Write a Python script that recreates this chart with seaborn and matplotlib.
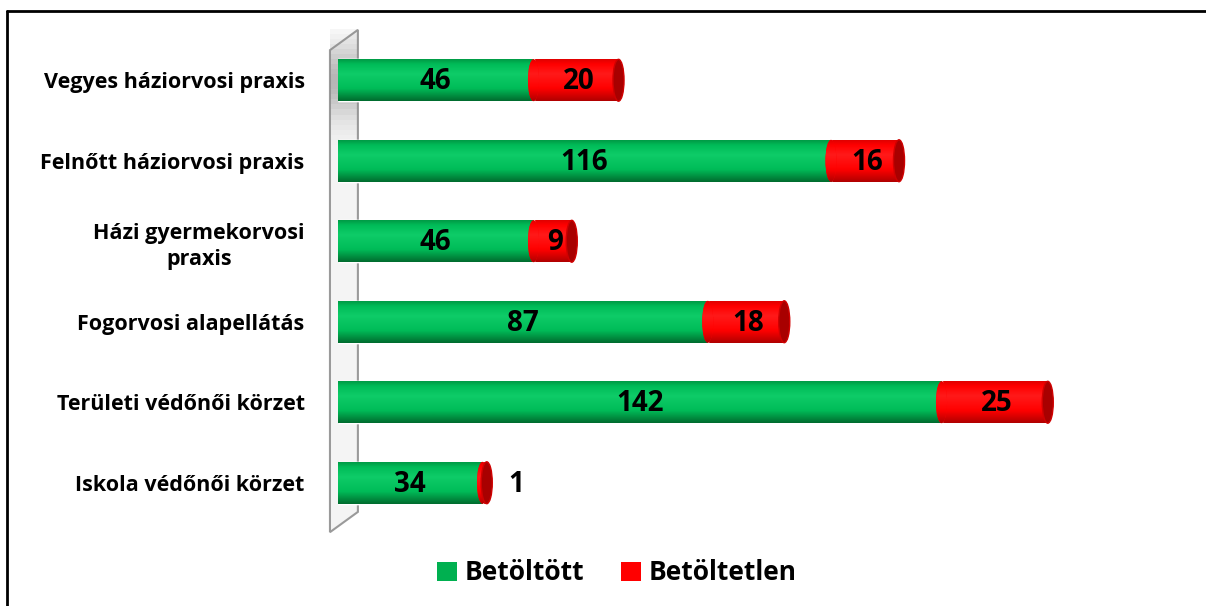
import numpy as np
import matplotlib
matplotlib.use("Agg")
import matplotlib.pyplot as plt
from matplotlib.patches import Ellipse, Polygon
from matplotlib.lines import Line2D
import matplotlib.colors as mcolors
import seaborn as sns

# Data
categories = [
    "Vegyes háziorvosi praxis",
    "Felnőtt háziorvosi praxis",
    "Házi gyermekorvosi\npraxis",
    "Fogorvosi alapellátás",
    "Területi védőnői körzet",
    "Iskola védőnői körzet",
]
filled = [46, 116, 46, 87, 142, 34]      # Betöltött
vacant = [20, 16, 9, 18, 25, 1]          # Betöltetlen
series_names = ["Betöltött", "Betöltetlen"]

totals = [f + v for f, v in zip(filled, vacant)]

sns.set_theme(style="white")
plt.rcParams["font.family"] = ["Open Sans", "DejaVu Sans"]
plt.rcParams["font.weight"] = "bold"
plt.rcParams["text.color"] = "black"

GREEN = "#00b050"
RED = "#ff0000"

fig = plt.figure(figsize=(12.06, 6.06), dpi=100)
W, H = 1206, 606
ax = fig.add_axes([338 / W, 1 - 523 / H, 765 / W, 483 / H])

bar_h = 0.52
sns.barplot(x=totals, y=categories, color=RED, orient="h", width=bar_h,
            saturation=1, ax=ax, zorder=3)
sns.barplot(x=filled, y=categories, color=GREEN, orient="h", width=bar_h,
            saturation=1, ax=ax, zorder=4)

ax.set_xlim(0, 180)
ax.set_ylim(len(categories) - 0.5, -0.5)
ax.set_xlabel("")
ax.set_ylabel("")
ax.set_xticks([])
for s in ax.spines.values():
    s.set_visible(False)
ax.tick_params(axis="y", length=0, pad=24)
for lbl in ax.get_yticklabels():
    lbl.set_fontsize(15.5)
    lbl.set_fontweight("bold")
    lbl.set_multialignment("center")
    lbl.set_color("black")
    lbl.set_linespacing(1.35)

# Side wall behind the bars
wall = Polygon([(-0.0105, -0.019), (-0.0105, 0.979), (0.026, 1.021), (0.026, 0.023)],
               closed=True, transform=ax.transAxes, facecolor="#f4f4f4",
               edgecolor="#9a9a9a", linewidth=1.5, zorder=1, clip_on=False)
ax.add_patch(wall)
# soft shading on the wall near the top
shade = np.linspace(0, 1, 100).reshape(-1, 1)
wall_img = ax.imshow(np.dstack([np.full_like(shade, 0.55)] * 3 + [0.6 * np.exp(-((shade - 0.1) / 0.07) ** 2)]),
                     extent=(-0.0105, 0.026, -0.019, 1.021), transform=ax.transAxes,
                     aspect="auto", zorder=1.5, clip_on=False, origin="upper")
wall_img.set_clip_path(wall)


def gradient_cmap(base, dark_top, light, dark_bottom):
    return mcolors.LinearSegmentedColormap.from_list(
        "g", [(0.0, dark_top), (0.12, base), (0.35, light), (0.7, base), (1.0, dark_bottom)])


green_cmap = gradient_cmap("#00bc58", "#009a45", "#0ecc68", "#006b2e")
red_cmap = gradient_cmap("#ff0000", "#e00000", "#ff1a1a", "#b00000")

grad = np.linspace(0, 1, 200).reshape(-1, 1)


def shade_patch(patch, cmap, z, x0, x1, y0, y1):
    im = ax.imshow(grad, cmap=cmap, extent=(x0, x1, y1, y0),
                   aspect="auto", zorder=z, origin="upper", interpolation="bicubic")
    im.set_clip_path(patch)


n = len(categories)
red_patches = ax.patches[:n]
green_patches = ax.patches[n:2 * n]
cap_w = 2.6

for i in range(n):
    rp, gp = red_patches[i], green_patches[i]
    y0, h = rp.get_y(), rp.get_height()
    yc = y0 + h / 2
    lo, hi = -3, totals[i] + 3
    # red body
    shade_patch(rp, red_cmap, 3.1, lo, hi, y0, y0 + h)
    # green body with rounded start
    gstart = Ellipse((0, yc), cap_w * 0.6, h, facecolor=GREEN, edgecolor="none", zorder=4)
    ax.add_patch(gstart)
    shade_patch(gstart, green_cmap, 4.2, lo, hi, y0, y0 + h)
    shade_patch(gp, green_cmap, 4.1, lo, hi, y0, y0 + h)
    # red segment front face
    rstart = Ellipse((filled[i], yc), cap_w, h, facecolor=RED, edgecolor="none", zorder=5)
    ax.add_patch(rstart)
    shade_patch(rstart, red_cmap, 5.1, lo, hi, y0, y0 + h)
    # end cap
    cap = Ellipse((totals[i], yc), cap_w, h, facecolor="#a80000",
                  edgecolor="#d00000", linewidth=1.0, zorder=6)
    ax.add_patch(cap)

    # value labels
    ax.text(filled[i] / 2, yc + 0.02, str(filled[i]), ha="center", va="center",
            fontsize=20, fontweight="bold", color="black", zorder=10)
    if vacant[i] >= 5:
        ax.text(filled[i] + vacant[i] / 2 + 0.6, yc + 0.02, str(vacant[i]), ha="center",
                va="center", fontsize=20, fontweight="bold", color="black", zorder=10)
    else:
        ax.text(totals[i] + 7, yc + 0.02, str(vacant[i]), ha="center", va="center",
                fontsize=20, fontweight="bold", color="black", zorder=10)

ax.set_xlim(0, 180)
ax.set_ylim(len(categories) - 0.5, -0.5)

# Legend
handles = [plt.Rectangle((0, 0), 1, 1, facecolor=GREEN, edgecolor="none"),
           plt.Rectangle((0, 0), 1, 1, facecolor=RED, edgecolor="none")]
leg = fig.legend(handles, series_names, loc="center", bbox_to_anchor=(617 / W, 1 - 573 / H),
                 ncol=2, frameon=False, prop={"size": 19, "weight": "bold"},
                 handlelength=0.75, handleheight=0.75, handletextpad=0.3, columnspacing=1.4)
for t in leg.get_texts():
    t.set_color("black")

# Outer frame (left and top edges)
fig.add_artist(Line2D([7 / W, 7 / W], [0, 1 - 11 / H], color="black", linewidth=2,
                      transform=fig.transFigure))
fig.add_artist(Line2D([7 / W, 1], [1 - 11 / H, 1 - 11 / H], color="black", linewidth=2,
                      transform=fig.transFigure))

fig.savefig("out.png", dpi=100)
